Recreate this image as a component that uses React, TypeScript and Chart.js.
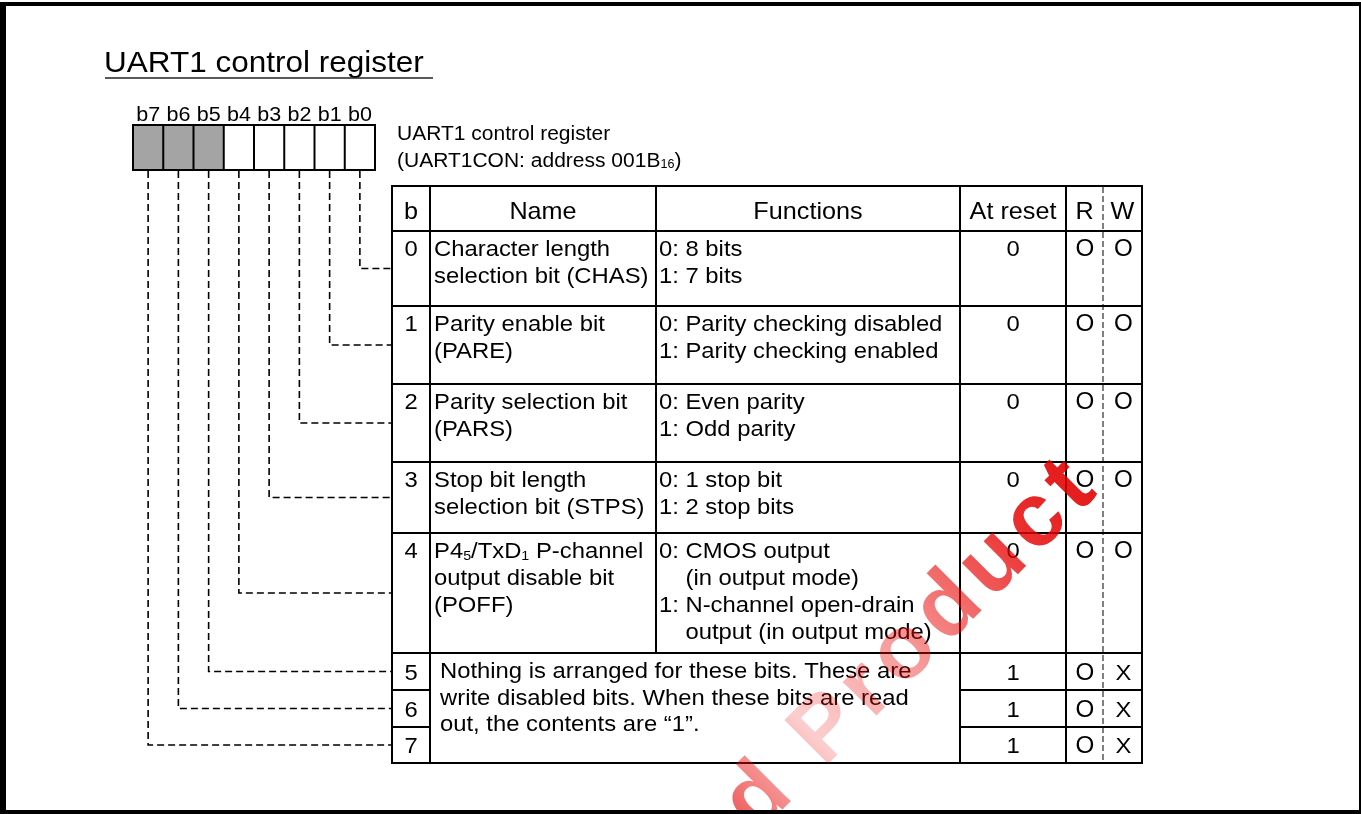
import React, { useEffect, useRef } from "react";
import { Chart, registerables } from "chart.js";

Chart.register(...registerables);

// ---------- data ----------
const TITLE = "UART1 control register";
const REGISTER_LABEL = ["UART1 control register", "(UART1CON: address 001B{16})"];
const BIT_LABELS = ["b7", "b6", "b5", "b4", "b3", "b2", "b1", "b0"];
const BIT_SHADED = [true, true, true, false, false, false, false, false];
const HEADERS = ["b", "Name", "Functions", "At reset", "R", "W"];
const ROW_BITS = ["0", "1", "2", "3", "4", "5", "6", "7"];
const ROW_NAMES = [
  ["Character length", "selection bit (CHAS)"],
  ["Parity enable bit", "(PARE)"],
  ["Parity selection bit", "(PARS)"],
  ["Stop bit length", "selection bit (STPS)"],
  ["P4{5}/TxD{1} P-channel", "output disable bit", "(POFF)"],
];
const ROW_FUNCTIONS = [
  ["0: 8 bits", "1: 7 bits"],
  ["0: Parity checking disabled", "1: Parity checking enabled"],
  ["0: Even parity", "1: Odd parity"],
  ["0: 1 stop bit", "1: 2 stop bits"],
  ["0: CMOS output", ">(in output mode)", "1: N-channel open-drain", ">output (in output mode)"],
];
const RESERVED_NOTE = [
  "Nothing is arranged for these bits. These are",
  "write disabled bits. When these bits are read",
  "out, the contents are \u201C1\u201D.",
];
const AT_RESET = ["0", "0", "0", "0", "0", "1", "1", "1"];
const READ_ACCESS = ["O", "O", "O", "O", "O", "O", "O", "O"];
const WRITE_ACCESS = ["O", "O", "O", "O", "O", "X", "X", "X"];
const WATERMARK_PREFIX = "Discontinued ";
const WATERMARK_WORD = "Product";

// ---------- layout (positions / styles) ----------
const W = 1361;
const H = 814;
const SX = 1.05; // slight horizontal stretch of the original artwork
const FONT = '"Liberation Sans", Arial, Helvetica, sans-serif';
const COLS = [392, 430, 656, 960, 1066, 1103, 1142];
const HEADER_TOP = 186;
const ROW_TOPS = [231, 306, 384, 462, 533, 653, 690, 727];
const TABLE_BOTTOM = 763;
const BOX = { left: 133, right: 375, top: 125, bottom: 170 };

function parseRich(text: string) {
  const segs: { t: string; sub: boolean }[] = [];
  const re = /\{([^}]*)\}/g;
  let last = 0;
  let m: RegExpExecArray | null;
  while ((m = re.exec(text))) {
    if (m.index > last) segs.push({ t: text.slice(last, m.index), sub: false });
    segs.push({ t: m[1], sub: true });
    last = m.index + m[0].length;
  }
  if (last < text.length) segs.push({ t: text.slice(last), sub: false });
  return segs;
}

function richWidth(ctx: CanvasRenderingContext2D, text: string, size: number) {
  let w = 0;
  for (const s of parseRich(text)) {
    ctx.font = `${s.sub ? size * 0.6 : size}px ${FONT}`;
    w += ctx.measureText(s.t).width * SX;
  }
  return w;
}

function drawRich(
  ctx: CanvasRenderingContext2D,
  text: string,
  x: number,
  yc: number,
  size: number,
  align: "left" | "center" | "right" = "left",
  color = "#000"
) {
  const total = richWidth(ctx, text, size);
  let cx = align === "left" ? x : align === "center" ? x - total / 2 : x - total;
  const base = yc + size * 0.36;
  ctx.fillStyle = color;
  for (const s of parseRich(text)) {
    const sz = s.sub ? size * 0.6 : size;
    ctx.font = `${sz}px ${FONT}`;
    const w = ctx.measureText(s.t).width * SX;
    ctx.save();
    ctx.translate(cx, base + (s.sub ? size * 0.06 : 0));
    ctx.scale(SX, 1);
    ctx.textAlign = "left";
    ctx.textBaseline = "alphabetic";
    ctx.fillText(s.t, 0, 0);
    ctx.restore();
    cx += w;
  }
}

const diagramPlugin = {
  id: "registerDiagram",
  afterDraw(chart: any) {
    const ctx: CanvasRenderingContext2D = chart.ctx;
    const xs = chart.scales.x;
    const ys = chart.scales.y;
    const X = (v: number) => xs.getPixelForValue(v);
    const Y = (v: number) => ys.getPixelForValue(v);

    ctx.save();
    // frame
    ctx.fillStyle = "#fff";
    ctx.fillRect(X(0), Y(0), X(W) - X(0), Y(H) - Y(0));
    ctx.fillStyle = "#000";
    ctx.fillRect(X(0), Y(2), X(W) - X(0), Y(H) - Y(2));
    ctx.fillStyle = "#fff";
    ctx.fillRect(X(6), Y(6), X(1359) - X(6), Y(810) - Y(6));

    // title
    drawRich(ctx, TITLE, X(104), Y(61), 30);
    ctx.strokeStyle = "#222";
    ctx.lineWidth = 1.5;
    ctx.beginPath();
    ctx.moveTo(X(105), Y(78));
    ctx.lineTo(X(433), Y(78));
    ctx.stroke();

    // register bit box
    const cellW = (BOX.right - BOX.left) / BIT_LABELS.length;
    BIT_LABELS.forEach((lab, i) => {
      const x0 = BOX.left + i * cellW;
      if (BIT_SHADED[i]) {
        ctx.fillStyle = "#a4a4a4";
        ctx.fillRect(X(x0), Y(BOX.top), X(x0 + cellW) - X(x0), Y(BOX.bottom) - Y(BOX.top));
      }
      drawRich(ctx, lab, X(x0 + cellW / 2), Y(114), 20.5, "center");
    });
    ctx.strokeStyle = "#000";
    ctx.lineWidth = 2;
    ctx.strokeRect(X(BOX.left), Y(BOX.top), X(BOX.right) - X(BOX.left), Y(BOX.bottom) - Y(BOX.top));
    for (let i = 1; i < BIT_LABELS.length; i++) {
      const x = BOX.left + i * cellW;
      ctx.beginPath();
      ctx.moveTo(X(x), Y(BOX.top));
      ctx.lineTo(X(x), Y(BOX.bottom));
      ctx.stroke();
    }

    // register label
    REGISTER_LABEL.forEach((t, i) => drawRich(ctx, t, X(397), Y(133 + i * 27), 20));

    // row geometry
    const rowTop = (r: number) => ROW_TOPS[r];
    const rowBottom = (r: number) => (r + 1 < ROW_TOPS.length ? ROW_TOPS[r + 1] : TABLE_BOTTOM);
    const rowMid = (r: number) => (rowTop(r) + rowBottom(r)) / 2;

    // dashed connectors from bit cells to rows
    ctx.setLineDash([7, 4]);
    ctx.lineWidth = 1.6;
    BIT_LABELS.forEach((lab, i) => {
      const bit = parseInt(lab.slice(1), 10);
      const cx = BOX.left + (i + 0.5) * cellW;
      const yConn = rowMid(bit);
      ctx.beginPath();
      ctx.moveTo(X(cx), Y(BOX.bottom + 1));
      ctx.lineTo(X(cx), Y(yConn));
      ctx.lineTo(X(COLS[0]), Y(yConn));
      ctx.stroke();
    });
    ctx.setLineDash([]);

    // table grid
    ctx.lineWidth = 2;
    ctx.strokeStyle = "#000";
    const line = (x1: number, y1: number, x2: number, y2: number) => {
      ctx.beginPath();
      ctx.moveTo(X(x1), Y(y1));
      ctx.lineTo(X(x2), Y(y2));
      ctx.stroke();
    };
    const L = COLS[0], R = COLS[6];
    ctx.strokeRect(X(L), Y(HEADER_TOP), X(R) - X(L), Y(TABLE_BOTTOM) - Y(HEADER_TOP));
    line(L, ROW_TOPS[0], R, ROW_TOPS[0]);
    for (let r = 1; r < ROW_TOPS.length; r++) {
      if (r <= 5) line(L, ROW_TOPS[r], R, ROW_TOPS[r]);
      else {
        line(L, ROW_TOPS[r], COLS[1], ROW_TOPS[r]);
        line(COLS[3], ROW_TOPS[r], R, ROW_TOPS[r]);
      }
    }
    line(COLS[1], HEADER_TOP, COLS[1], TABLE_BOTTOM);
    line(COLS[2], HEADER_TOP, COLS[2], ROW_TOPS[5]);
    line(COLS[3], HEADER_TOP, COLS[3], TABLE_BOTTOM);
    line(COLS[4], HEADER_TOP, COLS[4], TABLE_BOTTOM);
    ctx.lineWidth = 1;
    ctx.setLineDash([6, 3]);
    line(COLS[5], HEADER_TOP + 1, COLS[5], TABLE_BOTTOM - 1);
    ctx.setLineDash([]);

    // header
    const hy = (HEADER_TOP + ROW_TOPS[0]) / 2 + 2;
    const centers = [
      (COLS[0] + COLS[1]) / 2,
      (COLS[1] + COLS[2]) / 2,
      (COLS[2] + COLS[3]) / 2,
      (COLS[3] + COLS[4]) / 2,
      (COLS[4] + COLS[5]) / 2,
      (COLS[5] + COLS[6]) / 2,
    ];
    HEADERS.forEach((h, i) => drawRich(ctx, h, X(centers[i]), Y(hy), 24, "center"));

    const TS = 22.7;
    const LH = 27;
    // rows with names / functions
    ROW_NAMES.forEach((lines, r) => {
      const y0 = rowTop(r) + 17;
      lines.forEach((t, k) => drawRich(ctx, t, X(COLS[1] + 4), Y(y0 + k * LH), TS));
      ROW_FUNCTIONS[r].forEach((t, k) => {
        let x = COLS[2] + 3;
        let s = t;
        if (t.startsWith(">")) {
          s = t.slice(1);
          x += richWidth(ctx, "0: ", TS);
        }
        drawRich(ctx, s, X(x), Y(y0 + k * LH), TS);
      });
    });
    // reserved note (merged cell)
    RESERVED_NOTE.forEach((t, k) => drawRich(ctx, t, X(COLS[1] + 10), Y(rowTop(5) + 17 + k * 26.5), TS));

    // bit number, reset, R/W
    ROW_BITS.forEach((b, r) => {
      const yc = r < ROW_NAMES.length ? rowTop(r) + 17 : rowMid(r);
      drawRich(ctx, b, X(centers[0]), Y(yc), TS, "center");
      drawRich(ctx, AT_RESET[r], X(centers[3]), Y(yc), TS, "center");
      drawRich(ctx, READ_ACCESS[r], X(centers[4] + 0.5), Y(yc), READ_ACCESS[r] === "O" ? 23 : TS, "center");
      drawRich(ctx, WRITE_ACCESS[r], X(centers[5] + 1), Y(yc), WRITE_ACCESS[r] === "O" ? 23 : TS, "center");
    });

    // watermark
    ctx.save();
    ctx.beginPath();
    ctx.rect(X(6), Y(6), X(1359) - X(6), Y(810) - Y(6));
    ctx.clip();
    ctx.translate(X(824), Y(768));
    ctx.rotate(-Math.PI / 4);
    ctx.font = `bold 90px ${FONT}`;
    (ctx as any).letterSpacing = "8px";
    const g = ctx.createLinearGradient(-220, 0, 440, 0);
    g.addColorStop(0, "rgba(225,0,0,0.85)");
    g.addColorStop(0.2, "rgba(230,0,0,0.6)");
    g.addColorStop(0.36, "rgba(240,30,30,0.22)");
    g.addColorStop(0.55, "rgba(235,10,10,0.42)");
    g.addColorStop(0.8, "rgba(230,0,0,0.82)");
    g.addColorStop(1, "rgba(220,0,0,0.95)");
    ctx.fillStyle = g;
    ctx.textBaseline = "alphabetic";
    ctx.textAlign = "left";
    const pw = ctx.measureText(WATERMARK_PREFIX).width;
    ctx.fillText(WATERMARK_PREFIX + WATERMARK_WORD, -pw, 0);
    ctx.restore();

    ctx.restore();
  },
};

export default function App() {
  const ref = useRef<HTMLCanvasElement | null>(null);
  useEffect(() => {
    if (!ref.current) return;
    const chart = new Chart(ref.current, {
      type: "scatter",
      data: { datasets: [{ data: [], pointRadius: 0 }] },
      options: {
        animation: false,
        responsive: false,
        devicePixelRatio: 1,
        layout: { padding: 0 },
        plugins: { legend: { display: false }, tooltip: { enabled: false } },
        scales: {
          x: { type: "linear", min: 0, max: W, display: false },
          y: { type: "linear", min: 0, max: H, reverse: true, display: false },
        },
      },
      plugins: [diagramPlugin],
    });
    return () => chart.destroy();
  }, []);
  return (
    <div style={{ position: "absolute", left: 0, top: 0, width: W, height: H, background: "#fff" }}>
      <canvas ref={ref} width={W} height={H} style={{ width: W, height: H, display: "block" }} />
    </div>
  );
}
